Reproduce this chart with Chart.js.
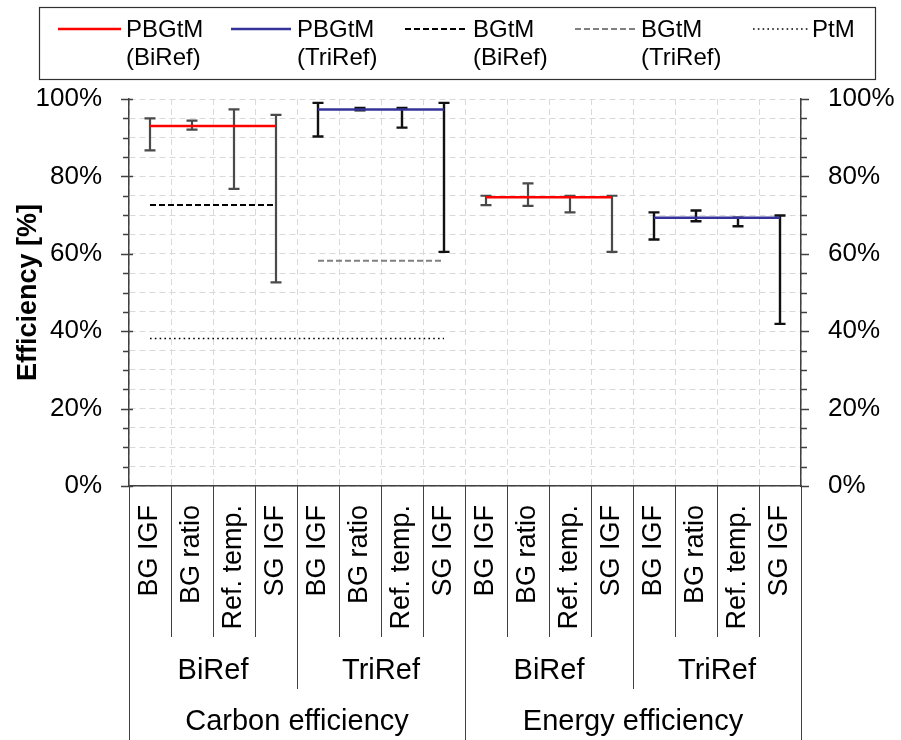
<!DOCTYPE html>
<html>
<head>
<meta charset="utf-8">
<script src="https://cdn.jsdelivr.net/npm/chart.js@4.4.1/dist/chart.umd.min.js"></script>
<style>
  html, body { margin: 0; padding: 0; background: #fff; }
  #wrap { width: 901px; height: 740px; }
</style>
</head>
<body>
<div id="wrap"><canvas id="chart" width="901" height="740"></canvas></div>
<script>
// categories (bottom level), then the two upper levels
const categories = [
    "BG IGF", "BG ratio", "Ref. temp.", "SG IGF",
    "BG IGF", "BG ratio", "Ref. temp.", "SG IGF",
    "BG IGF", "BG ratio", "Ref. temp.", "SG IGF",
    "BG IGF", "BG ratio", "Ref. temp.", "SG IGF"
];
const subGroups = ["BiRef", "TriRef", "BiRef", "TriRef"];
const mainGroups = ["Carbon efficiency", "Energy efficiency"];
const yTicks = [0, 20, 40, 60, 80, 100];

// series values [%]
const pbgtmBiRef  = [93, 93, 93, 93, null, null, null, null, 74.6, 74.6, 74.6, 74.6, null, null, null, null];
const pbgtmTriRef = [null, null, null, null, 97.3, 97.3, 97.3, 97.3, null, null, null, null, 69.3, 69.3, 69.3, 69.3];
const bgtmBiRef   = [72.6, 72.6, 72.6, 72.6, null, null, null, null, null, null, null, null, null, null, null, null];
const bgtmTriRef  = [null, null, null, null, 58.2, 58.2, 58.2, 58.2, null, null, null, null, null, null, null, null];
const ptm         = [38.1, 38.1, 38.1, 38.1, 38.1, 38.1, 38.1, 38.1, null, null, null, null, null, null, null, null];

// error bar ranges [%]
const errHigh = [95.0, 94.4, 97.3, 95.9, 99.0, 97.7, 97.7, 99.0, 75.0, 78.2, 75.0, 75.0, 70.7, 71.2, 69.3, 69.9];
const errLow  = [86.7, 92.1, 76.8, 52.6, 90.3, 97.1, 92.6, 60.5, 72.6, 72.4, 70.7, 60.5, 63.7, 68.4, 67.1, 41.9];

const axisColor = '#404040';
const gridColor = '#d9d9d9';
Chart.defaults.font.family = "'Liberation Sans', Arial, sans-serif";
Chart.defaults.color = '#000';

// error bars, tick marks, multi-level labels and legend box
const extras = {
    id: 'extras',
    beforeDatasetsDraw(chart) {
        const { ctx, scales: { x, y } } = chart;
        ctx.save();
        errHigh.forEach((hi, i) => {
            const px = x.getPixelForValue(i);
            const pt = y.getPixelForValue(hi);
            const pb = y.getPixelForValue(errLow[i]);
            const tri = Math.floor(i / 4) % 2 === 1;
            ctx.strokeStyle = tri ? '#111' : '#4a4a4a';
            ctx.lineWidth = tri ? 2.4 : 2.2;
            ctx.beginPath();
            ctx.moveTo(px, pt); ctx.lineTo(px, pb);
            ctx.moveTo(px - 5.5, pt); ctx.lineTo(px + 5.5, pt);
            ctx.moveTo(px - 5.5, pb); ctx.lineTo(px + 5.5, pb);
            ctx.stroke();
        });
        ctx.restore();
    },
    afterDraw(chart) {
        const { ctx, scales: { x, y } } = chart;
        const left = chart.chartArea.left, right = chart.chartArea.right;
        ctx.save();
        ctx.strokeStyle = axisColor;

        // y tick marks on both axes
        ctx.lineWidth = 1.5;
        for (let v = 0; v <= 100; v += 5) {
            const py = Math.round(y.getPixelForValue(v)) + 0.5;
            const major = yTicks.includes(v);
            ctx.beginPath();
            ctx.moveTo(left - (major ? 8 : 6), py); ctx.lineTo(left + (major ? 4 : 0), py);
            ctx.moveTo(right, py); ctx.lineTo(right + (major ? 8 : 6), py);
            ctx.stroke();
        }

        // separators below the x axis
        ctx.lineWidth = 1;
        const base = x.top;
        for (let k = 0; k <= categories.length; k++) {
            const bx = Math.round(x.getPixelForValue(k - 0.5)) + 0.5;
            let end = 637;
            if (k % 4 === 0) end = 689;
            if (k % 8 === 0) end = chart.height;
            ctx.beginPath();
            ctx.moveTo(bx, base); ctx.lineTo(bx, end);
            ctx.stroke();
        }

        // group labels
        ctx.fillStyle = '#000';
        ctx.textAlign = 'center';
        ctx.textBaseline = 'middle';
        ctx.font = "29px 'Liberation Sans', Arial, sans-serif";
        subGroups.forEach((g, j) => {
            const cx = (x.getPixelForValue(j * 4 - 0.5) + x.getPixelForValue(j * 4 + 3.5)) / 2;
            ctx.fillText(g, cx, 671);
        });
        mainGroups.forEach((g, j) => {
            const cx = (x.getPixelForValue(j * 8 - 0.5) + x.getPixelForValue(j * 8 + 7.5)) / 2;
            ctx.fillText(g, cx, 722);
        });

        // legend
        ctx.strokeStyle = '#303030';
        ctx.lineWidth = 1.2;
        ctx.strokeRect(39.5, 7.5, 836, 72);
        const items = [[58, 121, 126], [231, 291, 297], [405, 467, 473], [575, 635, 641], [753, 810, 812]];
        ctx.font = "24px 'Liberation Sans', Arial, sans-serif";
        ctx.textAlign = 'left';
        ctx.textBaseline = 'alphabetic';
        chart.data.datasets.forEach((ds, i) => {
            const [x0, x1, tx] = items[i];
            ctx.save();
            ctx.strokeStyle = ds.borderColor;
            ctx.lineWidth = ds.borderWidth;
            ctx.setLineDash(ds.borderDash || []);
            ctx.beginPath();
            ctx.moveTo(x0, 29); ctx.lineTo(x1, 29);
            ctx.stroke();
            ctx.restore();
            const parts = ds.label.split(' ');
            ctx.fillText(parts[0], tx, 37);
            if (parts[1]) ctx.fillText(parts[1], tx, 65);
        });
        ctx.restore();
    }
};

const yTickLabel = v => yTicks.includes(v) ? v + '%' : '';

new Chart(document.getElementById('chart'), {
    type: 'line',
    data: {
        labels: categories,
        datasets: [
            { label: 'PBGtM (BiRef)', data: pbgtmBiRef, borderColor: '#ff0000', borderWidth: 2.5 },
            { label: 'PBGtM (TriRef)', data: pbgtmTriRef, borderColor: '#333399', borderWidth: 2.5 },
            { label: 'BGtM (BiRef)', data: bgtmBiRef, borderColor: '#000000', borderWidth: 2, borderDash: [6, 3] },
            { label: 'BGtM (TriRef)', data: bgtmTriRef, borderColor: '#808080', borderWidth: 2, borderDash: [6, 3] },
            { label: 'PtM', data: ptm, borderColor: '#000000', borderWidth: 1.6, borderDash: [1.6, 3.2] }
        ]
    },
    options: {
        responsive: false,
        animation: false,
        elements: { point: { radius: 0 }, line: { tension: 0, fill: false } },
        layout: { padding: { top: 99, left: 0, right: 0, bottom: 0 } },
        plugins: { legend: { display: false }, tooltip: { enabled: false } },
        scales: {
            x: {
                offset: true,
                grid: { offset: true, color: gridColor, drawTicks: false },
                border: { color: axisColor, width: 1.5, dash: [6, 4] },
                ticks: { autoSkip: false, minRotation: 90, maxRotation: 90, padding: 19, font: { size: 27 } },
                afterFit: s => { s.height = 254; }
            },
            y: {
                min: 0, max: 100,
                grid: { color: gridColor, drawTicks: false },
                border: { color: axisColor, width: 1.5, dash: [6, 4] },
                ticks: { stepSize: 5, autoSkip: false, callback: yTickLabel, padding: 27, font: { size: 26 } },
                title: { display: true, text: 'Efficiency [%]', font: { size: 27, weight: 'bold' }, padding: { top: 12, bottom: 0 } },
                afterFit: s => { s.width = 129; }
            },
            y2: {
                position: 'right',
                min: 0, max: 100,
                grid: { drawOnChartArea: false, drawTicks: false },
                border: { color: axisColor, width: 1.5 },
                ticks: { stepSize: 5, autoSkip: false, callback: yTickLabel, padding: 27, font: { size: 26 } },
                afterFit: s => { s.width = 100; }
            }
        }
    },
    plugins: [extras]
});
</script>
</body>
</html>
